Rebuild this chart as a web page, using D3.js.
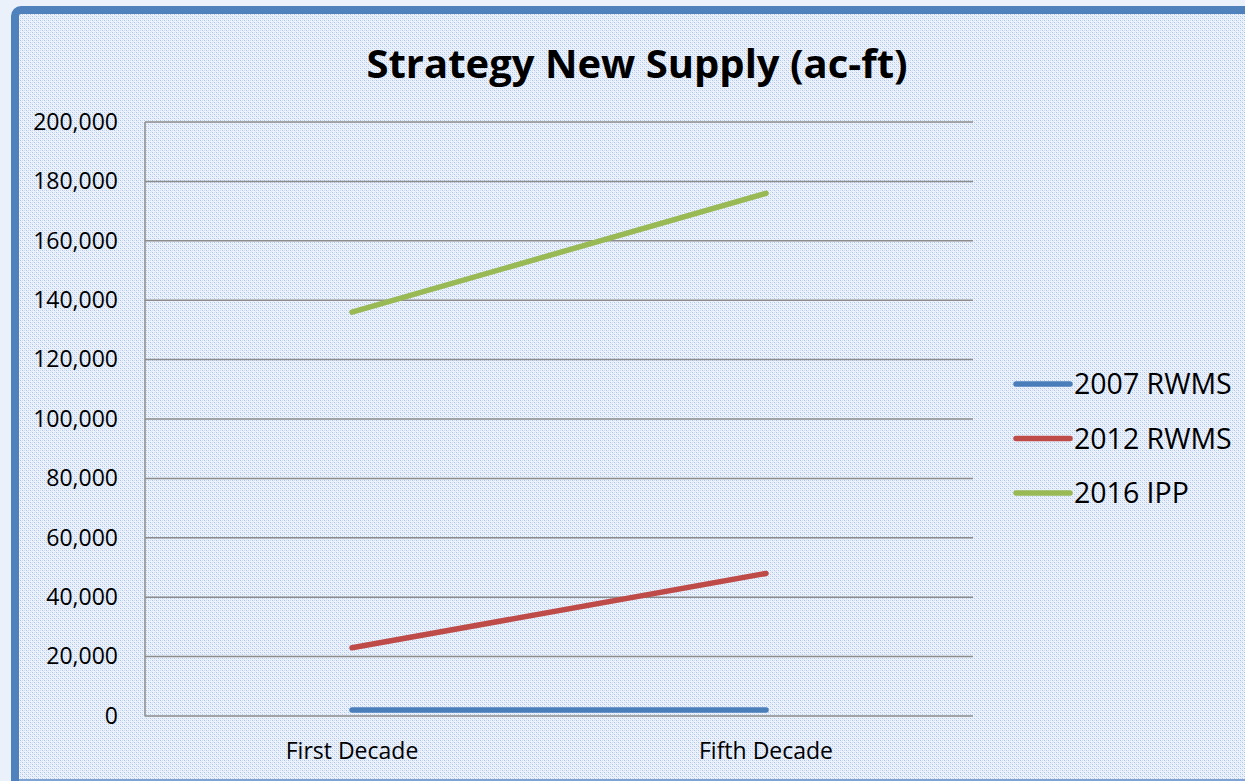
<!DOCTYPE html>
<html><head><meta charset="utf-8">
<script src="https://cdn.jsdelivr.net/npm/d3@7"></script>
<style>html,body{margin:0;padding:0;background:#eaf1fa;}svg{display:block;}</style>
</head><body>
<svg id="chart" width="1245" height="781"></svg>
<script>
const categories = ["First Decade", "Fifth Decade"];
const seriesNames = ["2007 RWMS", "2012 RWMS", "2016 IPP"];
const series2007 = [2000, 2000];
const series2012 = [23000, 48000];
const series2016 = [136000, 176000];
const yTicks = [0, 20000, 40000, 60000, 80000, 100000, 120000, 140000, 160000, 180000, 200000];
const colors = ["#4a7ebb", "#be4b48", "#98b954"];

const svg = d3.select("#chart");
const W = 1245, H = 781;
const defs = svg.append("defs");
const pat = defs.append("pattern").attr("id","dots").attr("patternUnits","userSpaceOnUse")
  .attr("width",4).attr("height",4);
pat.append("rect").attr("width",4).attr("height",4).attr("fill","#eef3fc");
pat.append("rect").attr("x",0).attr("y",0).attr("width",1).attr("height",1).attr("fill","#a9c3ea");
pat.append("rect").attr("x",2).attr("y",2).attr("width",1).attr("height",1).attr("fill","#a9c3ea");
pat.append("rect").attr("x",2).attr("y",0).attr("width",1).attr("height",1).attr("fill","#cddcf3");
pat.append("rect").attr("x",0).attr("y",2).attr("width",1).attr("height",1).attr("fill","#cddcf3");
pat.append("rect").attr("x",1).attr("y",1).attr("width",1).attr("height",1).attr("fill","#dbe6f6");
pat.append("rect").attr("x",3).attr("y",3).attr("width",1).attr("height",1).attr("fill","#dbe6f6");

// outer frame
svg.append("rect").attr("x",15).attr("y",10).attr("width",W+20).attr("height",H+20)
  .attr("rx",6).attr("fill","url(#dots)").attr("stroke","#4f81bd").attr("stroke-width",8);
svg.append("line").attr("x1",19).attr("x2",W).attr("y1",780).attr("y2",780)
  .attr("stroke","#7fa3d3").attr("stroke-width",2);

const m = {left:145, right:973, top:122, bottom:716};
const x = d3.scaleBand().domain(categories).range([m.left, m.right]);
const y = d3.scaleLinear().domain([0, 200000]).range([m.bottom, m.top]);

// gridlines
svg.append("g").selectAll("line").data(yTicks).join("line")
  .attr("x1", m.left).attr("x2", m.right)
  .attr("y1", d=>y(d)).attr("y2", d=>y(d))
  .attr("stroke","#8c8c8c").attr("stroke-width",1.5);
svg.append("line").attr("x1",m.left).attr("x2",m.left).attr("y1",m.top).attr("y2",m.bottom)
  .attr("stroke","#8c8c8c").attr("stroke-width",1.5);

// y axis labels
const yAxis = d3.axisLeft(y).tickValues(yTicks).tickFormat(d3.format(",")).tickSize(0).tickPadding(27);
const gy = svg.append("g").attr("transform",`translate(${m.left},0)`).call(yAxis);
gy.select(".domain").remove();
gy.selectAll("text").attr("font-family","'Open Sans', sans-serif").attr("font-size",23).attr("fill","#000");

// x axis labels
const xAxis = d3.axisBottom(x).tickSize(0).tickPadding(27);
const gx = svg.append("g").attr("transform",`translate(0,${m.bottom})`).call(xAxis);
gx.select(".domain").remove();
gx.selectAll("text").attr("font-family","'Open Sans', sans-serif").attr("font-size",23).attr("fill","#000");

// lines
const data = [series2007, series2012, series2016];
const line = d3.line().x((d,i)=>x(categories[i]) + x.bandwidth()/2).y(d=>y(d));
svg.append("g").selectAll("path").data(data).join("path")
  .attr("d", line).attr("fill","none")
  .attr("stroke",(d,i)=>colors[i]).attr("stroke-width",5.5).attr("stroke-linecap","round");

// title
svg.append("text").attr("x",637).attr("y",78).attr("text-anchor","middle")
  .attr("font-family","'Open Sans', sans-serif").attr("font-weight","bold").attr("font-size",40)
  .text("Strategy New Supply (ac-ft)");

// legend
const lg = svg.append("g").selectAll("g").data(seriesNames).join("g")
  .attr("transform",(d,i)=>`translate(1016,${384 + i*54.5})`);
lg.append("line").attr("x1",0).attr("x2",54).attr("stroke",(d,i)=>colors[i])
  .attr("stroke-width",5.5).attr("stroke-linecap","round");
lg.append("text").attr("x",58).attr("dy","0.36em")
  .attr("font-family","'Open Sans', sans-serif").attr("font-size",28.5).text(d=>d);
</script>
</body></html>
